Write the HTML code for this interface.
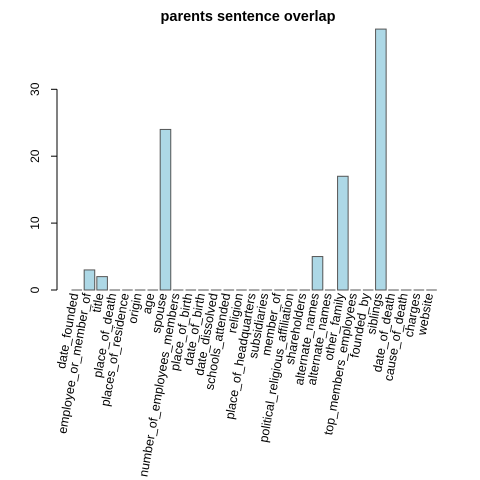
<!DOCTYPE html>
<html><head><meta charset="utf-8"><style>body{margin:0;background:#fff}svg{display:block}text{font-family:"Liberation Sans",sans-serif}</style></head>
<body>
<svg id="chart" width="480" height="480">
<text x="248" y="21" text-anchor="middle" font-size="14.5" font-weight="bold">parents sentence overlap</text>
<g id="yaxis"></g>
<g id="bars"></g>
<g id="xlabels"></g>
</svg>
<script>
const categories = ["date_founded","employee_or_member_of","title","place_of_death","places_of_residence","origin","age","spouse","number_of_employees_members","place_of_birth","date_of_birth","date_dissolved","schools_attended","religion","place_of_headquarters","subsidiaries","member_of","political_religious_affiliation","shareholders","alternate_names","alternate_names","other_family","top_members_employees","founded_by","siblings","date_of_death","cause_of_death","charges","website"];
const values = [0,3,2,0,0,0,0,24,0,0,0,0,0,0,0,0,0,0,0,5,0,17,0,0,39,0,0,0,0];
const yTicks = [0,10,20,30];
const NS="http://www.w3.org/2000/svg";
const y0=290, pxPerUnit=6.69, step=12.67, bw=10.56, x0=71.5;
const yScale=v=>y0-v*pxPerUnit;
const xLeft=i=>x0+i*step;
function mk(t,a){const e=document.createElementNS(NS,t);for(const k in a)e.setAttribute(k,a[k]);return e;}
const ya=document.getElementById('yaxis');
let ln=mk('line',{x1:57,x2:57,y1:yScale(yTicks[0]),y2:yScale(yTicks[yTicks.length-1]),stroke:'#000'});


ya.appendChild(ln);
yTicks.forEach(t=>{
  const tk=mk('line',{x1:51,x2:57,y1:yScale(t),y2:yScale(t),stroke:'#000'});
  
  
  ya.appendChild(tk);
  const tx=mk('text',{x:0,y:0,'font-size':12,'text-anchor':'middle',transform:`translate(39,${yScale(t)}) rotate(-90)`});
  tx.textContent=t;
  
  
  ya.appendChild(tx);
});
const bg=document.getElementById('bars'), xl=document.getElementById('xlabels');
categories.forEach((c,i)=>{
  const h=values[i]*pxPerUnit;
  const r=mk('rect',{x:xLeft(i),y:yScale(values[i]),width:bw,height:h,fill:'#add8e6',stroke:'#555','stroke-width':1});
  
  
  bg.appendChild(r);
  if(values[i]===0){
    const l=mk('line',{x1:xLeft(i),x2:xLeft(i)+bw,y1:y0,y2:y0,stroke:'#555'});
    
    
    bg.appendChild(l);
  }
  const cx=xLeft(i)+bw/2+1.5;
  const t=mk('text',{x:0,y:0,'font-size':12.5,'text-anchor':'end',transform:`translate(${cx},294) rotate(-80)`});
  t.textContent=c;
  
  
  xl.appendChild(t);
});
</script>
</body></html>
